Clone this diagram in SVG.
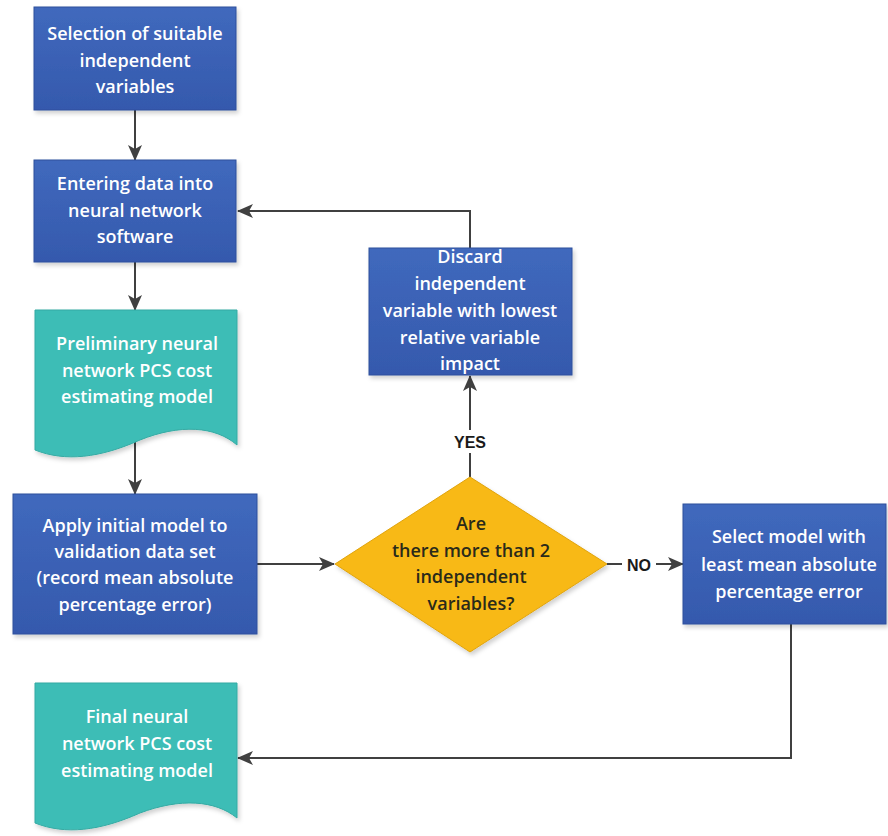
<svg xmlns="http://www.w3.org/2000/svg" width="888" height="836" viewBox="0 0 888 836">
  <defs>
    <linearGradient id="blueFill" x1="0" y1="0" x2="0" y2="1">
      <stop offset="0" stop-color="#4069bd"/>
      <stop offset="1" stop-color="#3559ad"/>
    </linearGradient>
    <filter id="shade" x="-10%" y="-10%" width="125%" height="125%">
      <feDropShadow dx="2" dy="3" stdDeviation="2" flood-color="#000" flood-opacity="0.18"/>
    </filter>
    <marker id="arrowBig" viewBox="0 0 16 14" refX="15" refY="7" markerWidth="16" markerHeight="14" markerUnits="userSpaceOnUse" orient="auto">
      <path d="M0,0 L16,7 L0,14 L4,7 Z" fill="#404040"/>
    </marker>
  </defs>
  <style>
    .proc { fill: url(#blueFill); stroke: #2f4f9c; stroke-width: 1; filter: url(#shade); }
    .doc { fill: #3dbdb6; stroke: #35aaa3; stroke-width: 1; filter: url(#shade); }
    .dec { fill: #f8b914; stroke: #e0a30c; stroke-width: 1; filter: url(#shade); }
    .lbl { font-family: "Open Sans", "Liberation Sans", sans-serif; font-weight: 600; font-size: 18px; text-anchor: middle; }
    .light { fill: #ffffff; }
    .dark { fill: #2a2a1a; }
    .tag { font-family: "Liberation Sans", sans-serif; font-weight: 700; font-size: 16px; text-anchor: middle; fill: #1a1a1a; }
    .wire { fill: none; stroke: #404040; stroke-width: 2; }
  </style>

  <rect width="888" height="836" fill="#ffffff"/>

  <!-- connectors -->
  <g id="connectors">
    <path class="wire" d="M135,110 V160" marker-end="url(#arrowBig)"/>
    <path class="wire" d="M135,262 V310" marker-end="url(#arrowBig)"/>
    <path class="wire" d="M135,441 V494" marker-end="url(#arrowBig)"/>
    <path class="wire" d="M257,564 H334" marker-end="url(#arrowBig)"/>
    <path class="wire" d="M470,477 V376" marker-end="url(#arrowBig)"/>
    <path class="wire" d="M470,248 V211 H238" marker-end="url(#arrowBig)"/>
    <path class="wire" d="M607,564 H683" marker-end="url(#arrowBig)"/>
    <path class="wire" d="M791,624 V758 H238" marker-end="url(#arrowBig)"/>
    <g id="label-yes">
      <rect x="452" y="430" width="36" height="23" fill="#ffffff"/>
      <text class="tag" x="470" y="448">YES</text>
    </g>
    <g id="label-no">
      <rect x="622" y="553" width="34" height="23" fill="#ffffff"/>
      <text class="tag" x="639" y="571">NO</text>
    </g>
  </g>

  <!-- nodes -->
  <g id="select-variables">
    <rect class="proc" x="34" y="7" width="202" height="103"/>
    <text class="lbl light" x="135" y="40">Selection of suitable</text>
    <text class="lbl light" x="135" y="67">independent</text>
    <text class="lbl light" x="135" y="93">variables</text>
  </g>

  <g id="enter-data">
    <rect class="proc" x="34" y="160" width="202" height="102"/>
    <text class="lbl light" x="135" y="190">Entering data into</text>
    <text class="lbl light" x="135" y="217">neural network</text>
    <text class="lbl light" x="135" y="243">software</text>
  </g>

  <g id="preliminary-model">
    <path class="doc" d="M35,310 H237 V445 C215,426 180,424 140,440 C100,458 65,462 35,450 Z"/>
    <text class="lbl light" x="137" y="350">Preliminary neural</text>
    <text class="lbl light" x="137" y="377">network PCS cost</text>
    <text class="lbl light" x="137" y="403">estimating model</text>
  </g>

  <g id="apply-model">
    <rect class="proc" x="13" y="494" width="244" height="140"/>
    <text class="lbl light" x="135" y="532">Apply initial model to</text>
    <text class="lbl light" x="135" y="558">validation data set</text>
    <text class="lbl light" x="135" y="584">(record mean absolute</text>
    <text class="lbl light" x="135" y="611">percentage error)</text>
  </g>

  <g id="decision">
    <path class="dec" d="M470,477 L607,564 L470,652 L335,564 Z"/>
    <text class="lbl dark" x="471" y="530">Are</text>
    <text class="lbl dark" x="471" y="557">there more than 2</text>
    <text class="lbl dark" x="471" y="583">independent</text>
    <text class="lbl dark" x="471" y="610">variables?</text>
  </g>

  <g id="discard-variable">
    <rect class="proc" x="369" y="248" width="203" height="127"/>
    <text class="lbl light" x="470" y="263">Discard</text>
    <text class="lbl light" x="470" y="290">independent</text>
    <text class="lbl light" x="470" y="317">variable with lowest</text>
    <text class="lbl light" x="470" y="344">relative variable</text>
    <text class="lbl light" x="470" y="370">impact</text>
  </g>

  <g id="select-model">
    <rect class="proc" x="683" y="504" width="203" height="120"/>
    <text class="lbl light" x="789" y="543">Select model with</text>
    <text class="lbl light" x="789" y="571">least mean absolute</text>
    <text class="lbl light" x="789" y="598">percentage error</text>
  </g>

  <g id="final-model">
    <path class="doc" d="M35,683 H237 V818 C215,800 180,798 140,813 C100,831 65,835 35,823 Z"/>
    <text class="lbl light" x="137" y="723">Final neural</text>
    <text class="lbl light" x="137" y="750">network PCS cost</text>
    <text class="lbl light" x="137" y="777">estimating model</text>
  </g>
</svg>
